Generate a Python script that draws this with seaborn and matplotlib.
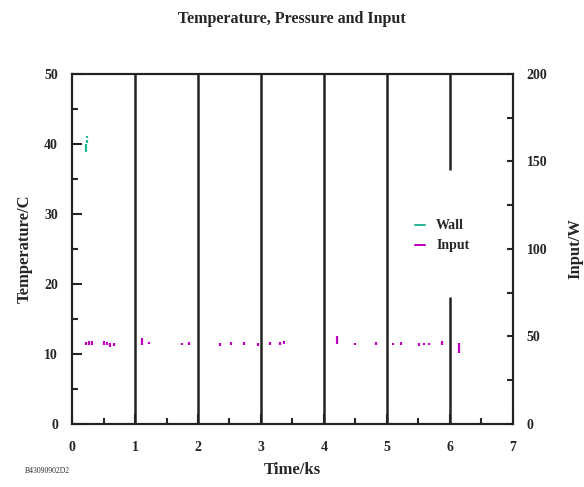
import numpy as np
import matplotlib
matplotlib.use("Agg")
import matplotlib.pyplot as plt
from matplotlib.ticker import MultipleLocator
import seaborn as sns

sns.set_style("ticks")
plt.rcParams["font.family"] = ["Liberation Serif", "DejaVu Serif"]
plt.rcParams["font.weight"] = "bold"

GREEN, MAGENTA = "#1fb894", "#c000c0"

# black vertical traces (time ks, temperature range)
trace_t = [1, 2, 3, 4, 5, 6, 6]
trace_lo = [0, 0, 0, 0, 0, 0, 36.3]
trace_hi = [50, 50, 50, 50, 50, 18.1, 50]

# wall temperature fragments
wall_t = [0.22, 0.245, 0.245]
wall_lo = [38.8, 40.2, 40.9]
wall_hi = [40.0, 40.6, 41.1]

# input power fragments (W)
input_t = [0.22, 0.27, 0.32, 0.50, 0.55, 0.60, 0.66, 1.11, 1.23, 1.75, 1.85,
           2.35, 2.52, 2.73, 2.96, 3.14, 3.30, 3.37, 4.21, 4.49, 4.83, 5.10,
           5.23, 5.51, 5.58, 5.66, 5.87, 6.15]
input_lo = [45.1, 45.1, 45.1, 45.1, 45.1, 43.8, 44.8, 45.1, 45.7, 45.1, 45.4,
            44.6, 45.4, 45.1, 44.6, 45.1, 45.4, 45.7, 45.7, 45.1, 45.4, 45.1,
            45.4, 44.8, 45.4, 45.4, 45.1, 40.6]
input_hi = [47.0, 47.6, 47.6, 47.6, 47.0, 46.4, 46.4, 49.0, 47.0, 46.4, 47.0,
            46.2, 47.0, 46.8, 46.2, 47.0, 46.8, 47.6, 50.3, 46.2, 46.6, 46.4,
            46.8, 46.0, 46.2, 46.2, 47.6, 46.5]

fig = plt.figure(figsize=(5.84, 4.87), dpi=100)
ax = fig.add_axes([0.1233, 0.1294, 0.7551, 0.7187])
ax2 = ax.twinx()

ax.vlines(trace_t, trace_lo, trace_hi, color="#222222", lw=1.8)
ax.vlines(wall_t, wall_lo, wall_hi, color=GREEN, lw=1.6)
ax2.vlines(input_t, input_lo, input_hi, color=MAGENTA, lw=1.6)

ax.plot([], [], color=GREEN, lw=1.4, label="Wall")
ax.plot([], [], color=MAGENTA, lw=1.4, label="Input")
ax.legend(loc="upper left", bbox_to_anchor=(0.75, 0.62), frameon=False,
          handlelength=0.7, handletextpad=0.8, labelspacing=0.5,
          prop={"family": "Liberation Serif", "weight": "bold", "size": 10})

ax.set_xlim(0, 7)
ax.set_ylim(0, 50)
ax2.set_ylim(0, 200)
ax.xaxis.set_major_locator(MultipleLocator(1))
ax.xaxis.set_minor_locator(MultipleLocator(0.5))
ax.yaxis.set_major_locator(MultipleLocator(10))
ax.yaxis.set_minor_locator(MultipleLocator(5))
ax2.yaxis.set_major_locator(MultipleLocator(50))
ax2.yaxis.set_minor_locator(MultipleLocator(25))

for a in (ax, ax2):
    for s in a.spines.values():
        s.set_visible(True)
        s.set_linewidth(1.5)
        s.set_color("#222222")
ax.tick_params(axis="both", which="major", direction="in", length=7, width=1.5,
               labelsize=10, pad=10)
ax.tick_params(axis="both", which="minor", direction="in", length=4, width=1.5)
ax.tick_params(axis="x", which="major", pad=12)
ax2.tick_params(axis="y", which="both", direction="in", length=4, width=1.5,
                labelsize=10, pad=10)

ax.set_xlabel("Time/ks", fontsize=12, fontweight="bold", labelpad=6)
ax.set_ylabel("Temperature/C", fontsize=12, fontweight="bold", labelpad=8)
ax2.set_ylabel("Input/W", fontsize=12, fontweight="bold", labelpad=14)
fig.text(0.5, 0.96, "Temperature, Pressure and Input", ha="center", va="center",
         fontsize=11.5, fontweight="bold")
fig.text(0.043, 0.033, "B43090902D2", fontsize=5.5, ha="left", va="center",
         fontweight="normal")

fig.savefig("out.png", dpi=100)
